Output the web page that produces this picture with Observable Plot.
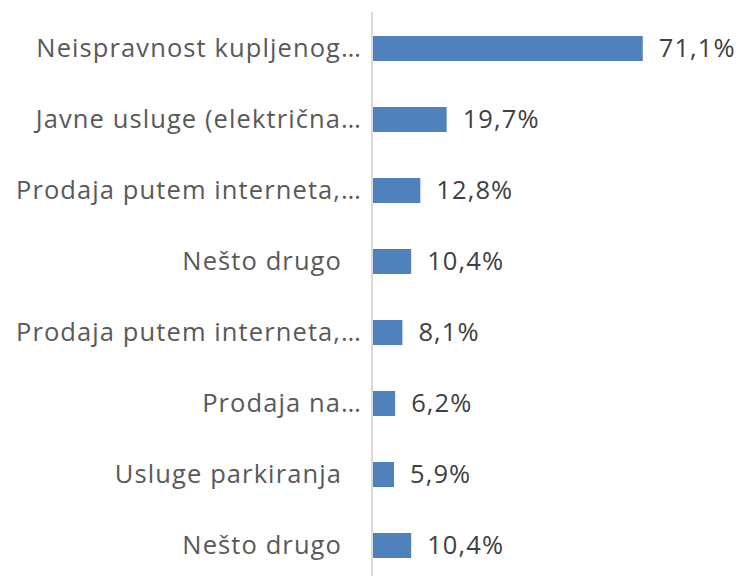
<!DOCTYPE html>
<html><head><meta charset="utf-8">
<script src="https://cdn.jsdelivr.net/npm/d3@7"></script>
<script src="https://cdn.jsdelivr.net/npm/@observablehq/plot@0.6"></script>
<style>body{margin:0;background:#fff} #chart svg{display:block}</style>
</head><body><div id="chart"></div>
<script>
const categories = [
  "Neispravnost kupljenog…",
  "Javne usluge (električna…",
  "Prodaja putem interneta,…",
  "Nešto drugo",
  "Prodaja putem interneta,…",
  "Prodaja na…",
  "Usluge parkiranja",
  "Nešto drugo"
];
const values = [71.1, 19.7, 12.8, 10.4, 8.1, 6.2, 5.9, 10.4];

const data = categories.map((c, i) => ({i, label: c, value: values[i], truncated: c.endsWith("…")}));
const fmt = v => v.toFixed(1).replace(".", ",") + "%";

const chart = Plot.plot({
  width: 742, height: 576,
  marginLeft: 371.5, marginRight: 65.3, marginTop: 12, marginBottom: -6.4,
  style: {fontFamily: "'Open Sans'", background: "#fff", letterSpacing: "1.1px"},
  x: {domain: [0, 80], axis: null},
  y: {domain: d3.range(categories.length), axis: null, paddingInner: 0.65, paddingOuter: 0.325},
  marks: [
    Plot.barX(data, {x: "value", y: "i", fill: "#4F81BD"}),
    Plot.ruleX([0], {stroke: "#d9d9d9", strokeWidth: 2}),
    Plot.text(data.filter(d => d.truncated), {x: 0, y: "i", text: "label", textAnchor: "end", dx: -10, fontSize: 25.5, fill: "#595959"}),
    Plot.text(data.filter(d => !d.truncated), {x: 0, y: "i", text: "label", textAnchor: "end", dx: -30, fontSize: 25.5, fill: "#595959"}),
    Plot.text(data, {x: "value", y: "i", text: d => fmt(d.value), textAnchor: "start", dx: 15.5, fontSize: 25.5, fill: "#404040", letterSpacing: "1.3px"})
  ]
});
document.getElementById("chart").appendChild(chart);
</script>
</body></html>
